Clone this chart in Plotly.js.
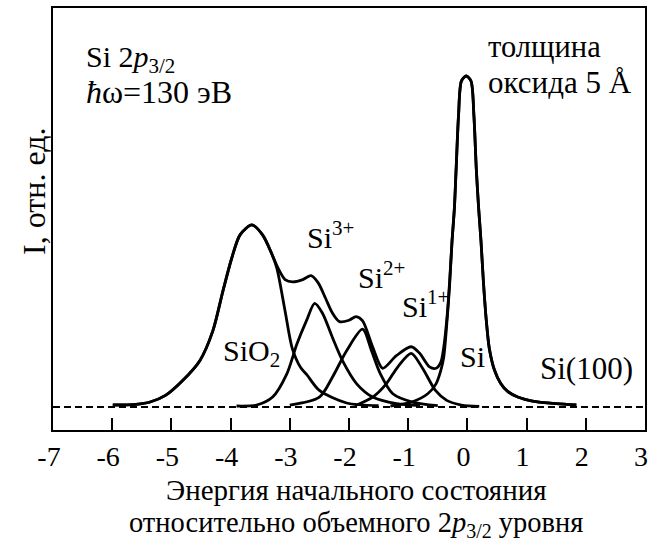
<!DOCTYPE html>
<html>
<head>
<meta charset="utf-8">
<script src="https://cdn.plot.ly/plotly-3.0.1.min.js"></script>
<style>html,body{margin:0;padding:0;background:#fff;}#chart{width:650px;height:539px;}</style>
</head>
<body>
<div id="chart"></div>
<script>
// Envelope (total spectrum)
const totalX = [-5.99,-5.6,-5.36,-5.1,-4.81,-4.52,-4.30,-4.13,-3.98,-3.84,-3.64,-3.46,-3.31,-3.20,-3.08,-2.95,-2.78,-2.64,-2.52,-2.40,-2.28,-2.16,-2.0,-1.88,-1.77,-1.60,-1.43,-1.20,-0.95,-0.81,-0.64,-0.53,-0.45,-0.40,-0.34,-0.30,-0.26,-0.22,-0.19,-0.15,-0.10,-0.02,0.06,0.11,0.15,0.19,0.23,0.27,0.32,0.37,0.46,0.56,0.68,0.85,1.1,1.5,1.84];
const totalY = [0.006,0.008,0.015,0.035,0.08,0.14,0.23,0.35,0.45,0.52,0.55,0.52,0.465,0.42,0.385,0.378,0.385,0.397,0.375,0.33,0.284,0.258,0.262,0.273,0.26,0.181,0.117,0.155,0.182,0.163,0.121,0.117,0.135,0.18,0.28,0.38,0.50,0.60,0.72,0.88,0.985,1.0,0.985,0.88,0.72,0.60,0.50,0.38,0.26,0.177,0.11,0.072,0.047,0.03,0.018,0.01,0.006];
// Components
const sio2X = [-5.99,-5.6,-5.36,-5.1,-4.81,-4.52,-4.30,-4.13,-3.98,-3.84,-3.64,-3.46,-3.31,-3.22,-3.08,-2.96,-2.82,-2.71,-2.5,-2.04,-1.5];
const sio2Y = [0.006,0.008,0.015,0.035,0.08,0.14,0.23,0.35,0.45,0.52,0.55,0.52,0.465,0.42,0.29,0.178,0.12,0.097,0.05,0.012,0.004];
const si3X = [-3.9,-3.56,-3.29,-3.05,-2.88,-2.72,-2.58,-2.45,-2.28,-2.11,-1.87,-1.6,-1.2,-0.8];
const si3Y = [0.003,0.006,0.03,0.10,0.19,0.26,0.313,0.284,0.21,0.14,0.07,0.03,0.01,0.004];
const si2X = [-3.0,-2.5,-2.28,-2.04,-1.77,-1.62,-1.47,-1.26,-0.93,-0.5];
const si2Y = [0.006,0.03,0.09,0.17,0.235,0.17,0.10,0.04,0.015,0.004];
const si1X = [-1.9,-1.6,-1.37,-1.18,-0.95,-0.76,-0.54,-0.35,-0.1,0.2];
const si1Y = [0.004,0.03,0.07,0.12,0.162,0.118,0.05,0.02,0.006,0.002];
const siX = [-1.3,-0.94,-0.67,-0.53,-0.45,-0.40,-0.34,-0.30,-0.26,-0.22,-0.19,-0.15,-0.10,-0.02,0.06,0.11,0.15,0.19,0.23,0.27,0.32,0.37,0.46,0.56,0.68,0.85,1.1,1.5,1.84];
const siY = [0.003,0.015,0.04,0.07,0.11,0.15,0.27,0.37,0.50,0.60,0.72,0.88,0.985,1.0,0.985,0.88,0.72,0.60,0.50,0.38,0.26,0.177,0.11,0.072,0.047,0.03,0.018,0.01,0.006];
const baseX = [-7,3];
const baseY = [0,0];
const tickVals = [-7,-6,-5,-4,-3,-2,-1,0,1,2,3];
const tickText = ['-7','-6','-5','-4','-3','-2','-1','0','1','2','3'];

const FONT = 'Liberation Serif, Times New Roman, serif';
const lineStyle = {color:'#000', width:2.8, shape:'spline', smoothing:0.8};
function curve(x,y){return {x:x,y:y,mode:'lines',line:lineStyle,hoverinfo:'skip',showlegend:false};}

const traces = [
  {x:baseX,y:baseY,mode:'lines',line:{color:'#000',width:2,dash:'7px,4px'},showlegend:false,hoverinfo:'skip'},
  curve(sio2X,sio2Y), curve(si3X,si3Y), curve(si2X,si2Y), curve(si1X,si1Y), curve(siX,siY), curve(totalX,totalY)
];

function F(s){return {family:FONT,size:s,color:'#000'};}
function ann(text,x,y,extra){return Object.assign({text:text,x:x,y:y,xref:'x',yref:'y',showarrow:false,xanchor:'left',yanchor:'middle',font:F(30)},extra||{});}
function pann(text,x,y,size,extra){return Object.assign({text:text,x:x,y:y,xref:'paper',yref:'paper',showarrow:false,xanchor:'center',yanchor:'middle',font:F(size)},extra||{});}

const layout = {
  width:650,height:539,
  margin:{l:53,r:5,t:8,b:109},
  paper_bgcolor:'#fff',plot_bgcolor:'#fff',
  font:F(28),
  showlegend:false,
  xaxis:{range:[-7,3],tickmode:'array',tickvals:tickVals,ticktext:tickText,ticks:'inside',ticklen:12,tickwidth:2,tickcolor:'#000',
    showline:true,linewidth:2,linecolor:'#000',mirror:true,showgrid:false,zeroline:false,
    tickfont:F(28),ticklabelshift:-4,ticklabelstandoff:0},
  yaxis:{range:[-0.0695,1.2054],showticklabels:false,ticks:'',showline:true,linewidth:2,linecolor:'#000',mirror:true,showgrid:false,zeroline:false},
  annotations:[
    ann('Si 2<i>p</i><sub>3/2</sub>',-6.48,1.05),
    ann('<i>ħ</i>ω=130 эВ',-6.48,0.952,{font:F(32)}),
    ann('толщина',0.31,1.088,{font:F(30.5)}),
    ann('оксида 5 Å',0.31,0.979,{font:F(31)}),
    ann('Si<sup>3+</sup>',-2.74,0.521),
    ann('Si<sup>2+</sup>',-1.88,0.399),
    ann('Si<sup>1+</sup>',-1.14,0.311),
    ann('SiO<sub>2</sub>',-4.16,0.162),
    ann('Si',-0.16,0.153),
    ann('Si(100)',1.19,0.115,{font:F(31)}),
    pann('I, отн. ед.',-0.032,(0.65+0.0695)/1.2749,32,{textangle:-90}),
    pann('Энергия начального состояния',0.512,-0.141,29),
    pann('относительно объемного 2<i>p</i><sub>3/2</sub> уровня',0.512,-0.2235,28.5)
  ]
};
Plotly.newPlot('chart',traces,layout,{staticPlot:true,displayModeBar:false});
</script>
</body>
</html>
